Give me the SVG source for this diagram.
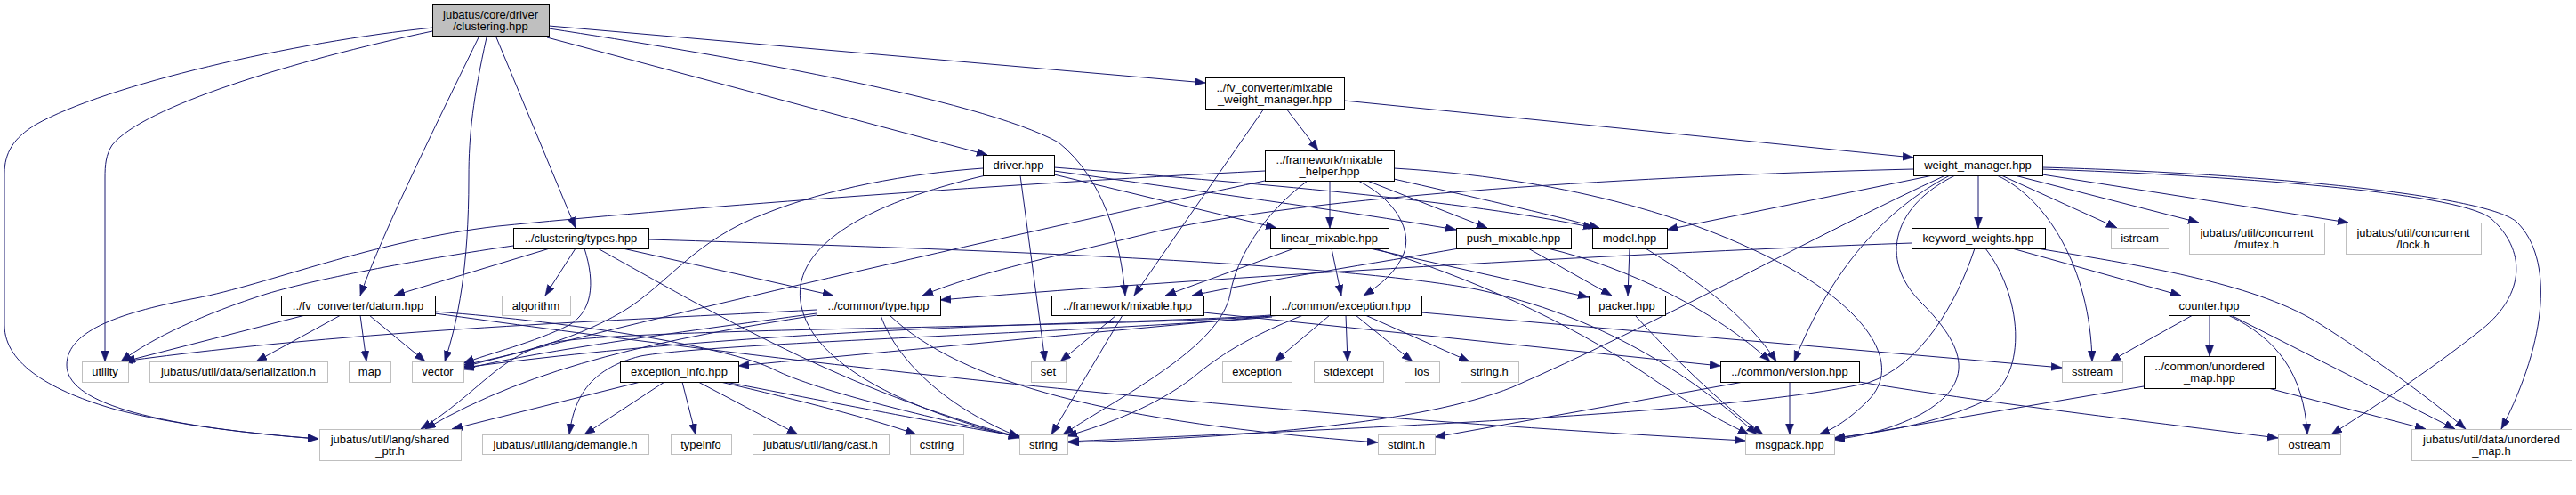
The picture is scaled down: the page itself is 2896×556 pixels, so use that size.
<svg xmlns="http://www.w3.org/2000/svg" width="2896" height="556" viewBox="0 0 2896 556">
<style>
.node rect{fill:#fff;stroke:#000;stroke-width:1}
.sel rect{fill:#bfbfbf}
.ext rect{stroke:#bfbfbf}
text{font-family:"Liberation Sans",Arial,Helvetica,sans-serif;font-size:13px;text-anchor:middle;fill:#000}
.edges path{fill:none;stroke:#191970;stroke-width:1;marker-end:url(#arr)}
</style>
<defs>
<marker id="arr" markerUnits="userSpaceOnUse" markerWidth="13" markerHeight="10" refX="12" refY="4.5" orient="auto">
<path d="M0,0 L12,4.5 L0,9 z" fill="#191970" stroke="#191970" stroke-width="0.5"/>
</marker>
</defs>
<rect x="0" y="0" width="2896" height="556" fill="#fff"/>
<g id="edges" class="edges">
<path d="M487,31 C330,47 120,95 40,140 C15,155 5,172 5,195 L5,365 C5,410 60,440 130,460 C200,478 280,487 358,493"/>
<path d="M486,35 C330,68 160,120 126,163 C119,174 118,185 118,200 L118,406"/>
<path d="M538,42 C505,110 430,260 405,332"/>
<path d="M547,42 C532,110 527,150 527,200 C527,300 515,360 500,406"/>
<path d="M558,42 L647,256"/>
<path d="M617,32 C800,60 1100,110 1190,160 C1240,200 1260,270 1265,332"/>
<path d="M615,42 L1110,174"/>
<path d="M617,29 L1355,93"/>
<path d="M1421,122 L1275,332"/>
<path d="M1446,122 L1482,169"/>
<path d="M1511,113 L2151,177"/>
<path d="M1105,189 C1020,195 930,212 860,240 C780,270 750,320 700,350 C640,385 570,400 521,410"/>
<path d="M1108,197 C1000,222 910,262 900,320 C892,380 960,445 1146,492"/>
<path d="M1147,197 L1175,406"/>
<path d="M1185,196 L1435,256"/>
<path d="M1185,192 C1350,215 1500,235 1637,258"/>
<path d="M1185,188 C1400,205 1650,225 1792,256"/>
<path d="M1422,192 C1100,208 750,235 560,254 C420,270 300,320 220,335 C140,350 75,370 75,410 C75,450 160,478 358,493"/>
<path d="M1422,203 C1200,250 800,340 521,412"/>
<path d="M1470,203 C1420,240 1390,290 1383,330 C1372,390 1260,445 1195,488"/>
<path d="M1495,203 L1495,256"/>
<path d="M1537,203 L1672,256"/>
<path d="M1567,201 C1650,220 1740,240 1798,256"/>
<path d="M1527,203 C1570,225 1588,260 1578,285 C1570,305 1552,320 1533,332"/>
<path d="M1567,189 C1750,200 1900,240 2010,300 C2100,350 2140,410 2100,450 C2080,470 2062,482 2045,488"/>
<path d="M2151,190 C1900,196 1500,215 1300,260 C1200,285 1100,305 1037,332"/>
<path d="M2173,197 L1874,258"/>
<path d="M2187,197 C2050,260 1850,370 1700,435 C1600,475 1400,492 1201,497"/>
<path d="M2192,197 C2120,235 2060,300 2017,406"/>
<path d="M2198,197 C2130,230 2110,290 2160,340 C2210,390 2222,430 2160,465 C2120,485 2090,490 2062,494"/>
<path d="M2224,197 L2224,256"/>
<path d="M2245,197 C2300,222 2350,300 2352,406"/>
<path d="M2250,197 L2380,256"/>
<path d="M2265,197 L2472,250"/>
<path d="M2296,196 L2640,250"/>
<path d="M2296,190 C2500,197 2760,215 2800,245 C2840,280 2840,330 2790,370 C2740,410 2680,450 2621,488"/>
<path d="M2296,188 C2550,195 2800,220 2830,250 C2870,290 2865,380 2812,482"/>
<path d="M2149,273 C1800,285 1300,316 1057,337"/>
<path d="M2220,279 C2200,340 2160,410 2100,430 C1950,465 1500,482 1201,496"/>
<path d="M2232,279 C2272,330 2282,420 2232,450 C2172,478 2110,486 2062,492"/>
<path d="M2262,279 L2452,332"/>
<path d="M2290,279 C2420,300 2540,320 2610,365 C2680,410 2735,450 2772,482"/>
<path d="M2465,354 L2372,406"/>
<path d="M2484,354 L2484,400"/>
<path d="M2505,354 C2560,380 2590,420 2594,488"/>
<path d="M2508,354 L2760,482"/>
<path d="M2410,434 L2062,493"/>
<path d="M2550,436 L2727,482"/>
<path d="M2012,429 L2012,488"/>
<path d="M1960,429 L1613,491"/>
<path d="M2090,429 C2250,455 2450,478 2561,492"/>
<path d="M1838,354 C1880,400 1930,450 1982,488"/>
<path d="M1832,279 L1830,332"/>
<path d="M1850,279 C1900,310 1960,350 1997,406"/>
<path d="M1640,279 C1550,295 1420,315 1340,332"/>
<path d="M1718,279 L1812,332"/>
<path d="M1740,279 C1830,300 1930,350 1990,406"/>
<path d="M1455,279 L1310,332"/>
<path d="M1497,279 L1508,332"/>
<path d="M1540,279 L1786,334"/>
<path d="M1545,279 C1650,310 1760,360 1850,420 C1900,455 1940,475 1966,488"/>
<path d="M1495,354 L1433,406"/>
<path d="M1513,354 L1515,406"/>
<path d="M1524,354 L1588,406"/>
<path d="M1535,354 L1652,406"/>
<path d="M1440,354 C1200,376 1000,395 830,411"/>
<path d="M1465,354 C1400,380 1370,400 1340,425 C1300,455 1250,475 1199,490"/>
<path d="M1428,354 C1300,364 900,362 521,413"/>
<path d="M1428,355 C1250,368 700,368 620,385 C560,400 540,440 473,482"/>
<path d="M1430,356 C1250,372 800,385 720,400 C660,415 645,450 640,488"/>
<path d="M1598,351 L2318,413"/>
<path d="M1255,354 L1192,406"/>
<path d="M1262,354 L1182,488"/>
<path d="M1353,351 L1934,411"/>
<path d="M720,429 L508,482"/>
<path d="M747,429 L657,488"/>
<path d="M767,429 L782,488"/>
<path d="M785,429 L897,488"/>
<path d="M810,429 C900,450 980,470 1030,488"/>
<path d="M815,429 C950,455 1080,480 1147,490"/>
<path d="M918,348 C700,360 400,370 138,406"/>
<path d="M918,352 C750,375 600,395 521,415"/>
<path d="M918,354 C750,380 600,410 478,482"/>
<path d="M990,354 C1010,410 1070,460 1146,491"/>
<path d="M1000,354 C1080,430 1250,475 1549,497"/>
<path d="M577,276 C480,290 360,312 300,330 C230,352 170,380 136,406"/>
<path d="M618,279 L443,332"/>
<path d="M647,279 L613,332"/>
<path d="M657,279 C670,320 665,350 640,365 C600,385 550,397 521,408"/>
<path d="M672,279 C800,350 950,440 1146,491"/>
<path d="M700,279 L937,332"/>
<path d="M729,269 C1100,280 1500,295 1660,325 C1800,355 1900,420 1975,488"/>
<path d="M343,354 L140,406"/>
<path d="M383,354 L288,406"/>
<path d="M405,354 L412,406"/>
<path d="M415,354 L478,406"/>
<path d="M489,350 C650,362 820,390 870,415 C920,440 1050,470 1146,491"/>
<path d="M489,352 C800,395 1300,460 1962,495"/>
</g>
<g id="n_clustering" class="node sel"><rect x="486.5" y="5.5" width="131" height="35"/><text x="551.5" y="21">jubatus/core/driver</text><text x="551.5" y="34">/clustering.hpp</text></g>
<g id="n_mwm" class="node"><rect x="1355.5" y="87.5" width="156" height="35"/><text x="1433" y="102.5">../fv_converter/mixable</text><text x="1433" y="115.5">_weight_manager.hpp</text></g>
<g id="n_driver" class="node"><rect x="1105.5" y="174.5" width="80" height="23"/><text x="1145" y="190">driver.hpp</text></g>
<g id="n_mixable_helper" class="node"><rect x="1422.5" y="169.5" width="145" height="34"/><text x="1494.5" y="184">../framework/mixable</text><text x="1494.5" y="197">_helper.hpp</text></g>
<g id="n_weight_manager" class="node"><rect x="2151.5" y="174.5" width="145" height="23"/><text x="2223.5" y="190">weight_manager.hpp</text></g>
<g id="n_types" class="node"><rect x="577.5" y="256.5" width="152" height="23"/><text x="653" y="272">../clustering/types.hpp</text></g>
<g id="n_linear_mixable" class="node"><rect x="1428.5" y="256.5" width="133" height="23"/><text x="1494.5" y="272">linear_mixable.hpp</text></g>
<g id="n_push_mixable" class="node"><rect x="1637.5" y="256.5" width="129" height="23"/><text x="1701.5" y="272">push_mixable.hpp</text></g>
<g id="n_model" class="node"><rect x="1790.5" y="256.5" width="84" height="23"/><text x="1832" y="272">model.hpp</text></g>
<g id="n_keyword_weights" class="node"><rect x="2149.5" y="256.5" width="150" height="23"/><text x="2224" y="272">keyword_weights.hpp</text></g>
<g id="n_istream" class="node ext"><rect x="2373.5" y="256.5" width="65" height="23"/><text x="2405.5" y="272">istream</text></g>
<g id="n_mutex" class="node ext"><rect x="2461.5" y="250.5" width="152" height="35"/><text x="2537" y="265.5">jubatus/util/concurrent</text><text x="2537" y="278.5">/mutex.h</text></g>
<g id="n_lock" class="node ext"><rect x="2637.5" y="250.5" width="152" height="35"/><text x="2713" y="265.5">jubatus/util/concurrent</text><text x="2713" y="278.5">/lock.h</text></g>
<g id="n_datum" class="node"><rect x="316.5" y="332.5" width="173" height="22"/><text x="402.5" y="347.5">../fv_converter/datum.hpp</text></g>
<g id="n_algorithm" class="node ext"><rect x="564.5" y="332.5" width="77" height="22"/><text x="602.5" y="347.5">algorithm</text></g>
<g id="n_common_type" class="node"><rect x="918.5" y="332.5" width="139" height="22"/><text x="987.5" y="347.5">../common/type.hpp</text></g>
<g id="n_mixable" class="node"><rect x="1182.5" y="332.5" width="171" height="22"/><text x="1267.5" y="347.5">../framework/mixable.hpp</text></g>
<g id="n_exception_hpp" class="node"><rect x="1428.5" y="332.5" width="170" height="22"/><text x="1513" y="347.5">../common/exception.hpp</text></g>
<g id="n_packer" class="node"><rect x="1786.5" y="332.5" width="86" height="22"/><text x="1829" y="347.5">packer.hpp</text></g>
<g id="n_counter" class="node"><rect x="2438.5" y="332.5" width="91" height="22"/><text x="2483.5" y="347.5">counter.hpp</text></g>
<g id="n_utility" class="node ext"><rect x="92.5" y="406.5" width="52" height="23"/><text x="118" y="422">utility</text></g>
<g id="n_serialization" class="node ext"><rect x="168.5" y="406.5" width="200" height="23"/><text x="268" y="422">jubatus/util/data/serialization.h</text></g>
<g id="n_map" class="node ext"><rect x="392.5" y="406.5" width="47" height="23"/><text x="415.5" y="422">map</text></g>
<g id="n_vector" class="node ext"><rect x="463.5" y="406.5" width="58" height="23"/><text x="492" y="422">vector</text></g>
<g id="n_exception_info" class="node"><rect x="697.5" y="406.5" width="133" height="23"/><text x="763.5" y="422">exception_info.hpp</text></g>
<g id="n_set" class="node ext"><rect x="1159.5" y="406.5" width="39" height="23"/><text x="1178.5" y="422">set</text></g>
<g id="n_exception" class="node ext"><rect x="1374.5" y="406.5" width="78" height="23"/><text x="1413" y="422">exception</text></g>
<g id="n_stdexcept" class="node ext"><rect x="1477.5" y="406.5" width="78" height="23"/><text x="1516" y="422">stdexcept</text></g>
<g id="n_ios" class="node ext"><rect x="1579.5" y="406.5" width="39" height="23"/><text x="1598.5" y="422">ios</text></g>
<g id="n_string_h" class="node ext"><rect x="1642.5" y="406.5" width="65" height="23"/><text x="1674.5" y="422">string.h</text></g>
<g id="n_version" class="node"><rect x="1934.5" y="406.5" width="156" height="23"/><text x="2012" y="422">../common/version.hpp</text></g>
<g id="n_sstream" class="node ext"><rect x="2318.5" y="406.5" width="68" height="23"/><text x="2352" y="422">sstream</text></g>
<g id="n_common_unordered_map" class="node"><rect x="2410.5" y="400.5" width="148" height="36"/><text x="2484" y="416">../common/unordered</text><text x="2484" y="429">_map.hpp</text></g>
<g id="n_shared_ptr" class="node ext"><rect x="359.5" y="482.5" width="159" height="35"/><text x="438.5" y="498">jubatus/util/lang/shared</text><text x="438.5" y="511">_ptr.h</text></g>
<g id="n_demangle" class="node ext"><rect x="542.5" y="488.5" width="187" height="22"/><text x="635.5" y="503.5">jubatus/util/lang/demangle.h</text></g>
<g id="n_typeinfo" class="node ext"><rect x="754.5" y="488.5" width="68" height="22"/><text x="788" y="503.5">typeinfo</text></g>
<g id="n_cast" class="node ext"><rect x="846.5" y="488.5" width="153" height="22"/><text x="922.5" y="503.5">jubatus/util/lang/cast.h</text></g>
<g id="n_cstring" class="node ext"><rect x="1023.5" y="488.5" width="60" height="22"/><text x="1053" y="503.5">cstring</text></g>
<g id="n_string" class="node ext"><rect x="1146.5" y="488.5" width="54" height="22"/><text x="1173" y="503.5">string</text></g>
<g id="n_stdint" class="node ext"><rect x="1549.5" y="488.5" width="64" height="22"/><text x="1581" y="503.5">stdint.h</text></g>
<g id="n_msgpack" class="node ext"><rect x="1962.5" y="488.5" width="100" height="22"/><text x="2012" y="503.5">msgpack.hpp</text></g>
<g id="n_ostream" class="node ext"><rect x="2561.5" y="488.5" width="70" height="22"/><text x="2596" y="503.5">ostream</text></g>
<g id="n_data_unordered_map" class="node ext"><rect x="2711.5" y="482.5" width="180" height="35"/><text x="2801" y="498">jubatus/util/data/unordered</text><text x="2801" y="511">_map.h</text></g>
</svg>
